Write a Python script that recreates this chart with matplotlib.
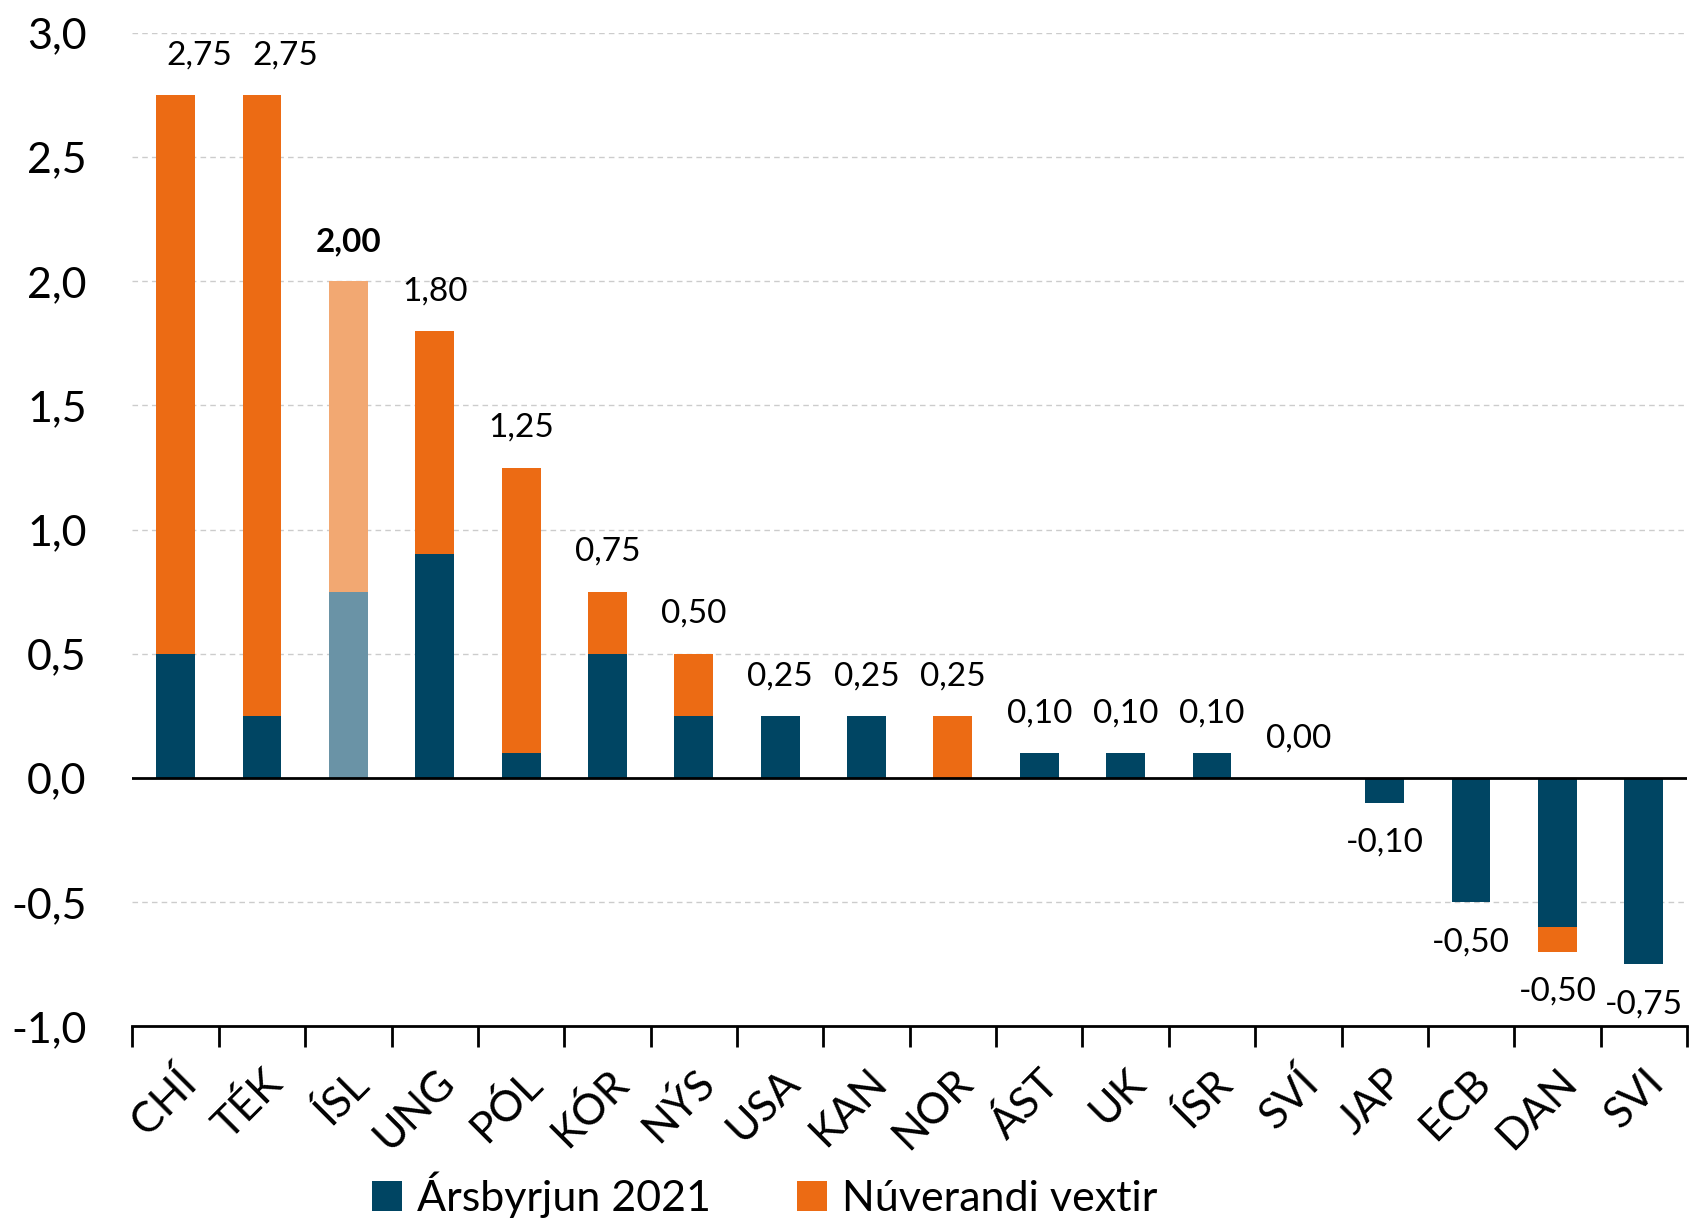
import matplotlib.pyplot as plt
import numpy as np

# Stýrivextir seðlabanka, %
lond = ['CHÍ', 'TÉK', 'ÍSL', 'UNG', 'PÓL', 'KÓR', 'NÝS', 'USA', 'KAN',
        'NOR', 'ÁST', 'UK', 'ÍSR', 'SVÍ', 'JAP', 'ECB', 'DAN', 'SVI']
arsbyrjun = [0.50, 0.25, 0.75, 0.90, 0.10, 0.50, 0.25, 0.25, 0.25,
             0.00, 0.10, 0.10, 0.10, 0.00, -0.10, -0.50, -0.60, -0.75]
breyting = [2.25, 2.50, 1.25, 0.90, 1.15, 0.25, 0.25, 0.00, 0.00,
            0.25, 0.00, 0.00, 0.00, 0.00, 0.00, 0.00, -0.10, 0.00]
nuverandi = [2.75, 2.75, 2.00, 1.80, 1.25, 0.75, 0.50, 0.25, 0.25,
             0.25, 0.10, 0.10, 0.10, 0.00, -0.10, -0.50, -0.50, -0.75]

NAVY = '#004563'
ORANGE = '#EC6B14'
NAVY_LIGHT = '#6A93A6'
ORANGE_LIGHT = '#F2A872'

plt.rcParams['font.family'] = ['Lato', 'DejaVu Sans']

fig = plt.figure(figsize=(16.98, 12.19), dpi=100)
ax = fig.add_axes([0.078, 0.158, 0.9155, 0.815])

x = np.arange(len(lond))
base = np.array(arsbyrjun)
inc = np.array(breyting)
c_base = [NAVY_LIGHT if l == 'ÍSL' else NAVY for l in lond]
c_inc = [ORANGE_LIGHT if l == 'ÍSL' else ORANGE for l in lond]

w = 0.45
ax.bar(x, base, w, color=c_base, zorder=3, label='Ársbyrjun 2021')
bottom = np.where(inc < 0, np.minimum(base, 0), np.maximum(base, 0))
ax.bar(x, inc, w, bottom=bottom, color=c_inc, zorder=3,
       label='Núverandi vextir')

# gagnamerki
for i, v in enumerate(nuverandi):
    if v >= 0:
        top = max(base[i] + inc[i], base[i], 0)
        y, va = top + 0.1, 'bottom'
    else:
        top = min(base[i] + inc[i], base[i])
        y, va = top - 0.1, 'top'
    dx = 0.27 if i < 2 else 0.0
    s = f'{v:.2f}'.replace('.', ',')
    ax.text(i + dx, y, s, ha='center', va=va, fontsize=24,
            fontweight='bold' if lond[i] == 'ÍSL' else 'normal')

ax.set_xlim(-0.5, len(lond) - 0.5)
ax.set_ylim(-1.0, 3.0)
yt = np.arange(-1.0, 3.01, 0.5)
ax.set_yticks(yt)
ax.set_yticklabels([f'{t:.1f}'.replace('.', ',') for t in yt], fontsize=31)
for t in yt:
    if -1.0 < t and t != 0:
        ax.axhline(t, color='#cccccc', lw=1, ls=(0, (4, 3)), zorder=1)
ax.axhline(0, color='black', lw=2, zorder=4)

ax.set_xticks(x)
ax.set_xticklabels(lond, rotation=45, ha='right', rotation_mode='anchor',
                   fontsize=31)
ax.set_xticks(np.arange(-0.5, len(lond), 1), minor=True)
ax.tick_params(axis='x', which='major', length=0, pad=26)
ax.tick_params(axis='x', which='minor', length=15, width=2, color='black')
ax.tick_params(axis='y', length=0, pad=33)

for s in ['left', 'right', 'top']:
    ax.spines[s].set_visible(False)
ax.spines['bottom'].set_linewidth(2)

fig.legend(loc='center', ncol=2, bbox_to_anchor=(0.4505, 0.02),
           frameon=False, fontsize=31, handlelength=0.7, handleheight=0.7,
           columnspacing=2.0, handletextpad=0.35, borderpad=0)

fig.savefig('out.png', dpi=100)
